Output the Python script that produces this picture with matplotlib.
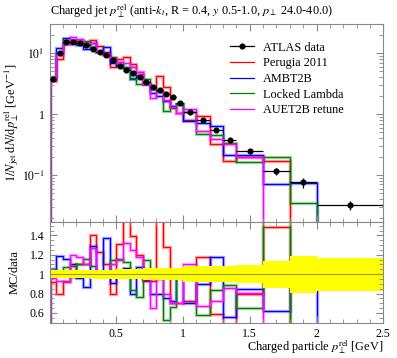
import matplotlib.pyplot as plt
import numpy as np
from matplotlib.lines import Line2D

plt.rcParams['font.family'] = ['Liberation Serif', 'DejaVu Serif']
plt.rcParams['mathtext.fontset'] = 'stix'

# bin edges (GeV)
edges = [0.0, 0.05, 0.1, 0.15, 0.2, 0.25, 0.3, 0.35, 0.4, 0.45, 0.5,
         0.55, 0.6, 0.65, 0.7, 0.75, 0.8, 0.85, 0.9, 0.95, 1.0,
         1.1, 1.2, 1.3, 1.4, 1.6, 1.8, 2.0, 2.5]

# ATLAS data and relative uncertainty
data = [3.8, 10.1, 15.2, 15.1, 14.4, 13.5, 11.5, 10.6, 9.3, 7.6,
        6.2, 5.3, 4.7, 4.1, 3.3, 2.8, 2.45, 2.15, 1.88, 1.5,
        1.09, 0.80, 0.55, 0.375, 0.247, 0.116, 0.076, 0.032]
rel_err = [0.04, 0.04, 0.04, 0.04, 0.04, 0.04, 0.045, 0.045, 0.045, 0.045,
           0.05, 0.05, 0.05, 0.05, 0.06, 0.06, 0.06, 0.065, 0.065, 0.065,
           0.085, 0.085, 0.085, 0.085, 0.09, 0.14, 0.19, 0.17]

# MC / data ratios
perugia = [0.92, 0.80, 0.93, 1.08, 1.10, 1.10, 1.40, 1.23, 1.10, 0.79,
           1.31, 1.65, 1.39, 1.20, 0.93, 0.93, 1.70, 1.28, 0.70, 0.70,
           0.72, 1.18, 0.59, 0.45, 0.80, 1.49, 0.0, 0.0]
ambt2b = [1.05, 1.19, 1.155, 1.10, 0.96, 0.87, 1.29, 1.00, 1.37, 0.91,
          1.01, 1.06, 0.80, 1.07, 0.94, 0.80, 0.80, 0.75, 0.72, 0.98,
          0.70, 0.90, 1.18, 0.56, 0.85, 0.62, 0.97, 0.0]
locked = [1.05, 1.00, 1.07, 0.97, 1.10, 1.16, 1.08, 0.98, 1.00, 1.15,
          1.16, 1.13, 0.84, 0.76, 1.15, 0.96, 0.96, 0.53, 0.66, 0.98,
          0.98, 0.58, 0.84, 0.89, 0.65, 1.72, 0.45, 0.0]
auet2b = [0.96, 0.93, 0.92, 1.20, 1.18, 1.10, 1.27, 1.03, 1.03, 1.11,
          1.15, 1.32, 1.25, 1.18, 0.95, 0.65, 0.95, 0.80, 0.70, 0.70,
          1.11, 0.67, 0.72, 0.86, 0.81, 0.0, 0.0, 0.0]

mc_names = ['Perugia 2011', 'AMBT2B', 'Locked Lambda', 'AUET2B retune']
mc_ratios = [perugia, ambt2b, locked, auet2b]
mc_colors = ['#ff0000', '#0000ff', '#008000', '#ff00ff']

edges = np.array(edges)
data = np.array(data)
rel_err = np.array(rel_err)
centers = 0.5 * (edges[1:] + edges[:-1])
halfw = 0.5 * np.diff(edges)

fig = plt.figure(figsize=(3.97, 3.58), dpi=100)
ax = fig.add_axes([0.1247, 0.380, 0.8408, 0.553])
rax = fig.add_axes([0.1247, 0.0978, 0.8408, 0.2822], sharex=ax)

# MC histograms
for name, ratio, col in zip(mc_names, mc_ratios, mc_colors):
    vals = np.array(ratio) * data
    ax.stairs(vals, edges, color=col, lw=2.4, alpha=0.35)
    ax.stairs(vals, edges, color=col, lw=0.8)
    rax.stairs(ratio, edges, color=col, lw=2.4, alpha=0.35)
    rax.stairs(ratio, edges, color=col, lw=0.8)

# data points
ax.errorbar(centers, data, xerr=halfw, yerr=data * rel_err, fmt='o',
            color='black', ms=3.4, lw=0.9, capsize=0, zorder=5)

ax.set_yscale('log')
ax.set_xlim(0, 2.5)
ax.set_ylim(0.017, 30)
ax.set_yticks([0.1, 1, 10])
ax.set_yticklabels([r'$10^{-1}$', '1', r'$10^{1}$'])
ax.tick_params(labelbottom=False)
ax.set_ylabel(r'$1/N_\mathrm{jet}\;\mathrm{d}N/\mathrm{d}p_\perp^\mathrm{rel}$ [GeV$^{-1}$]',
              fontsize=9)
ax.text(0, 1.018, r'Charged jet $p_\perp^\mathrm{rel}$ (anti-$k_t$, R = 0.4, $y$ 0.5-1.0, $p_\perp$ 24.0-40.0)',
        transform=ax.transAxes, fontsize=8.8, ha='left', va='bottom')

handles = [Line2D([], [], color='black', marker='o', ms=3.4, lw=0.9)]
handles += [Line2D([], [], color=c, lw=0.9) for c in mc_colors]
ax.legend(handles, ['ATLAS data'] + mc_names, loc='upper left',
          bbox_to_anchor=(0.525, 0.935), frameon=False, fontsize=8.8,
          handlelength=2.0, handletextpad=0.7, labelspacing=0.3,
          borderaxespad=0)

# ratio panel
rax.stairs(1 + rel_err, edges, baseline=1 - rel_err, fill=True,
           color='#ffff00', lw=0)
rax.axhline(1, color='#999900', lw=0.8)
rax.set_ylim(0.495, 1.54)
rax.set_yticks([0.6, 0.8, 1.0, 1.2, 1.4])
rax.set_yticklabels(['0.6', '0.8', '1', '1.2', '1.4'])
rax.set_yticks(np.arange(0.5, 1.55, 0.05), minor=True)
rax.set_xticks([0.5, 1, 1.5, 2, 2.5])
rax.set_xticklabels(['0.5', '1', '1.5', '2', '2.5'])
rax.set_xticks(np.arange(0, 2.51, 0.1), minor=True)
rax.set_ylabel('MC/data', fontsize=9)
rax.set_xlabel(r'Charged particle $p_\perp^\mathrm{rel}$ [GeV]', fontsize=8.8,
               ha='right', x=1.0, labelpad=-1)

for a in (ax, rax):
    a.tick_params(which='both', direction='in', top=True, right=True,
                  labelsize=8.5, color='#888888')
    a.tick_params(which='major', length=5)
    a.tick_params(which='minor', length=3)
    for s in a.spines.values():
        s.set_color('#888888')
        s.set_linewidth(0.8)
ax.yaxis.set_label_coords(-0.085, 0.5)
rax.yaxis.set_label_coords(-0.085, 0.5)

fig.savefig('out.png', dpi=100)
